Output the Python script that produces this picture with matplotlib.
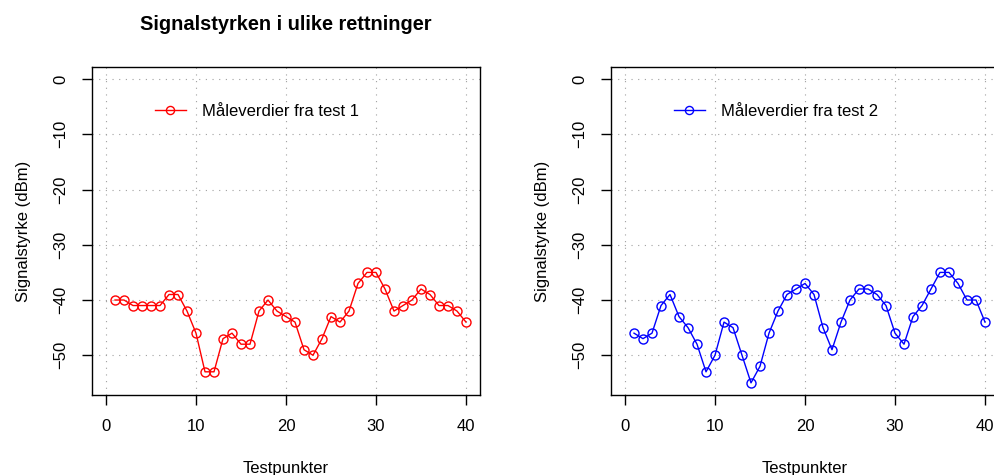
import matplotlib
matplotlib.use("Agg")
import matplotlib.pyplot as plt

plt.rcParams['font.family'] = ['Liberation Sans', 'DejaVu Sans']

# data
testpunkter = list(range(1, 41))
test1 = [-40, -40, -41, -41, -41, -41, -39, -39, -42, -46,
         -53, -53, -47, -46, -48, -48, -42, -40, -42, -43,
         -44, -49, -50, -47, -43, -44, -42, -37, -35, -35,
         -38, -42, -41, -40, -38, -39, -41, -41, -42, -44]
test2 = [-46, -47, -46, -41, -39, -43, -45, -48, -53, -50,
         -44, -45, -50, -55, -52, -46, -42, -39, -38, -37,
         -39, -45, -49, -44, -40, -38, -38, -39, -41, -46,
         -48, -43, -41, -38, -35, -35, -37, -40, -40, -44]
labels = ["Måleverdier fra test 1", "Måleverdier fra test 2"]
colors = ["red", "blue"]
xticks = [0, 10, 20, 30, 40]
yticks = [0, -10, -20, -30, -40, -50]

fig = plt.figure(figsize=(9.94, 4.75), dpi=100)
W, H = 994, 475


def axes_px(left, top, right, bottom):
    return fig.add_axes([left / W, 1 - bottom / H, (right - left) / W, (bottom - top) / H])


ax1 = axes_px(91.6, 67, 480.4, 395)
ax2 = axes_px(610.6, 67, 999.4, 395)

for ax, y, lab, col in zip([ax1, ax2], [test1, test2], labels, colors):
    ax.plot(testpunkter, y, color=col, lw=1.0, marker='o', ms=6.5,
            mfc='none', mec=col, mew=1.0, label=lab, zorder=3)
    ax.set_xlim(-1.6, 41.6)
    ax.set_ylim(-57.2, 2.2)
    ax.set_xticks(xticks)
    ax.set_yticks(yticks)
    ax.set_yticklabels([str(v).replace('-', '\u2212') for v in yticks],
                       rotation=90, va='center')
    ax.grid(True, color='#a0a0a0', linestyle=(0, (1, 5)), lw=0.8)
    ax.set_axisbelow(True)
    ax.tick_params(direction='out', length=7, width=1, labelsize=12, pad=10)
    for s in ax.spines.values():
        s.set_color('black')
        s.set_linewidth(1)
    ax.set_xlabel("Testpunkter", fontsize=12, labelpad=20)
    ax.set_ylabel("Signalstyrke (dBm)", fontsize=12, labelpad=16)
    ax.legend(loc='center left', bbox_to_anchor=(0.163, 0.864), frameon=False,
              borderpad=0, borderaxespad=0, handlelength=1.85, handletextpad=0.95,
              fontsize=12, markerscale=0.9)

fig.text(286 / W, 1 - 25 / H, "Signalstyrken i ulike rettninger",
         ha='center', va='center', fontsize=14.4, fontweight='bold')

fig.savefig("out.png", dpi=100)
